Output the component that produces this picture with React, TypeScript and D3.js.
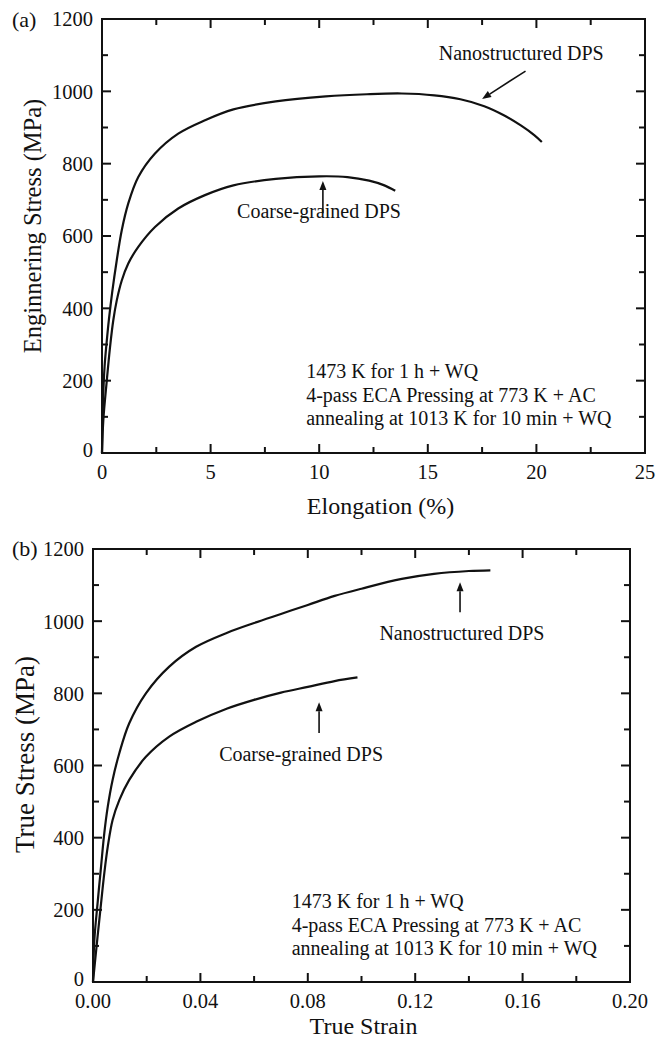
import React from 'react';
import * as d3 from 'd3';

// ---------- data ----------
// (a) engineering curves: elongation (%) vs engineering stress (MPa)
const engNanoStrain = [0, 0.05, 0.12, 0.22, 0.32, 0.47, 0.68, 0.91, 1.21, 1.67, 2.44, 3.51, 4.74, 6.05, 8.0, 10.3, 12.2, 13.8, 15.3, 16.5, 17.6, 18.5, 19.3, 19.9, 20.25];
const engNanoStress = [0, 150, 240, 310, 370, 445, 533, 616, 690, 763, 828, 883, 920, 950, 972, 986, 992, 994, 989, 978, 959, 934, 905, 879, 860];
const engCoarseStrain = [0, 0.06, 0.22, 0.37, 0.52, 0.68, 0.91, 1.21, 1.67, 2.44, 3.51, 4.74, 6.05, 8.0, 10.0, 11.3, 12.3, 13.0, 13.5];
const engCoarseStress = [0, 90, 200, 293, 367, 422, 477, 524, 570, 625, 676, 713, 740, 758, 765, 763, 753, 740, 725];

// (b) true curves: true strain vs true stress (MPa)
const trueNanoStrain = [0, 0.0005, 0.0017, 0.003, 0.0042, 0.0055, 0.0073, 0.0098, 0.0135, 0.0197, 0.0284, 0.0384, 0.05, 0.06, 0.07, 0.08, 0.09, 0.1, 0.115, 0.127, 0.14, 0.148];
const trueNanoStress = [0, 116, 218, 320, 412, 486, 560, 634, 717, 800, 874, 929, 968, 995, 1020, 1045, 1070, 1090, 1117, 1131, 1139, 1141];
const trueCoarseStrain = [0, 0.0017, 0.003, 0.0042, 0.0055, 0.0073, 0.0098, 0.0135, 0.0197, 0.0284, 0.0384, 0.05, 0.06, 0.07, 0.08, 0.09, 0.0985];
const trueCoarseStress = [0, 126, 218, 301, 375, 449, 504, 560, 624, 680, 721, 758, 782, 802, 818, 834, 844];

// ticks
const stressTicks = [0, 200, 400, 600, 800, 1000, 1200];
const stressMinor = [100, 300, 500, 700, 900, 1100];
const engTicks = [0, 5, 10, 15, 20, 25];
const engTickLabels = ['0', '5', '10', '15', '20', '25'];
const engMinor = [2.5, 7.5, 12.5, 17.5, 22.5];
const trueTicks = [0, 0.04, 0.08, 0.12, 0.16, 0.2];
const trueTickLabels = ['0.00', '0.04', '0.08', '0.12', '0.16', '0.20'];
const trueMinor = [0.02, 0.06, 0.1, 0.14, 0.18];

const conditionLines = ['1473 K for 1 h + WQ', '4-pass ECA Pressing at 773 K + AC', 'annealing at 1013 K for 10 min + WQ'];
const seriesNames = ['Nanostructured DPS', 'Coarse-grained DPS'];

const FONT = '"Liberation Serif", "Times New Roman", Times, serif';

type Cfg = {
  letter: string;
  left: number; right: number; top: number; bottom: number;
  xDomain: [number, number];
  xTicks: number[]; xLabels: string[]; xMinor: number[];
  xTitle: string; yTitle: string;
  xTitleDx: number; xTitleBase: number;
  yTitleX: number; yTitleDy: number; yTitleSize: number;
  letterX: number; letterBase: number;
  nano: [number, number][]; coarse: [number, number][];
  nanoLabel: [number, number]; nanoArrow: [number, number, number, number];
  coarseLabel: [number, number]; coarseArrow: [number, number, number, number];
  condX: number; condY: number[];
};

function zip(a: number[], b: number[]): [number, number][] {
  return a.map((v, i) => [v, b[i]]);
}

function Arrow({ x1, y1, x2, y2 }: { x1: number; y1: number; x2: number; y2: number }) {
  const dx = x2 - x1, dy = y2 - y1;
  const L = Math.hypot(dx, dy);
  const ux = dx / L, uy = dy / L;
  const hl = 9, hw = 3.5;
  const bx = x2 - ux * hl, by = y2 - uy * hl;
  const pts = [
    [x2, y2],
    [bx - uy * hw, by + ux * hw],
    [bx + uy * hw, by - ux * hw],
  ].map(p => p.join(',')).join(' ');
  return (
    <g>
      <line x1={x1} y1={y1} x2={bx} y2={by} stroke="#111" strokeWidth={1.6} />
      <polygon points={pts} fill="#111" />
    </g>
  );
}

function Panel({ c }: { c: Cfg }) {
  const x = d3.scaleLinear().domain(c.xDomain).range([c.left, c.right]);
  const y = d3.scaleLinear().domain([0, 1200]).range([c.bottom, c.top]);
  const line = d3.line<[number, number]>().x(d => x(d[0])).y(d => y(d[1])).curve(d3.curveCatmullRom.alpha(0.5));
  const maj = 9, min = 6;
  const tickSize = 20.5;
  return (
    <g fontFamily={FONT} fill="#111">
      {/* frame */}
      <rect x={c.left} y={c.top} width={c.right - c.left} height={c.bottom - c.top} fill="none" stroke="#111" strokeWidth={2} />
      {/* x ticks (bottom & top) */}
      {c.xTicks.map((t, i) => (
        <g key={'xt' + i}>
          <line x1={x(t)} x2={x(t)} y1={c.bottom} y2={c.bottom - maj} stroke="#111" strokeWidth={2} />
          <line x1={x(t)} x2={x(t)} y1={c.top} y2={c.top + maj} stroke="#111" strokeWidth={2} />
          <text x={x(t)} y={c.bottom + 26} textAnchor="middle" fontSize={tickSize}>{c.xLabels[i]}</text>
        </g>
      ))}
      {c.xMinor.map((t, i) => (
        <g key={'xm' + i}>
          <line x1={x(t)} x2={x(t)} y1={c.bottom} y2={c.bottom - min} stroke="#111" strokeWidth={2} />
          <line x1={x(t)} x2={x(t)} y1={c.top} y2={c.top + min} stroke="#111" strokeWidth={2} />
        </g>
      ))}
      {/* y ticks (left & right) */}
      {stressTicks.map((t, i) => (
        <g key={'yt' + i}>
          <line x1={c.left} x2={c.left + maj} y1={y(t)} y2={y(t)} stroke="#111" strokeWidth={2} />
          <line x1={c.right} x2={c.right - maj} y1={y(t)} y2={y(t)} stroke="#111" strokeWidth={2} />
          <text x={c.left - 9} y={y(t)} dy={t === 0 ? '0.2em' : '0.36em'} textAnchor="end" fontSize={tickSize}>{String(t)}</text>
        </g>
      ))}
      {stressMinor.map((t, i) => (
        <g key={'ym' + i}>
          <line x1={c.left} x2={c.left + min} y1={y(t)} y2={y(t)} stroke="#111" strokeWidth={2} />
          <line x1={c.right} x2={c.right - min} y1={y(t)} y2={y(t)} stroke="#111" strokeWidth={2} />
        </g>
      ))}
      {/* titles */}
      <text x={(c.left + c.right) / 2 + c.xTitleDx} y={c.xTitleBase} textAnchor="middle" fontSize={24}>{c.xTitle}</text>
      <text transform={`translate(${c.yTitleX},${(c.top + c.bottom) / 2 + c.yTitleDy}) rotate(-90)`} textAnchor="middle" fontSize={c.yTitleSize}>{c.yTitle}</text>
      <text x={c.letterX} y={c.letterBase} fontSize={22}>{c.letter}</text>
      {/* curves */}
      <path d={line(c.nano) || ''} fill="none" stroke="#111" strokeWidth={2.2} strokeLinejoin="round" />
      <path d={line(c.coarse) || ''} fill="none" stroke="#111" strokeWidth={2.2} strokeLinejoin="round" />
      {/* annotations */}
      <text x={x(c.nanoLabel[0])} y={y(c.nanoLabel[1])} textAnchor="middle" fontSize={20}>{seriesNames[0]}</text>
      <Arrow x1={x(c.nanoArrow[0])} y1={y(c.nanoArrow[1])} x2={x(c.nanoArrow[2])} y2={y(c.nanoArrow[3])} />
      <text x={x(c.coarseLabel[0])} y={y(c.coarseLabel[1])} textAnchor="middle" fontSize={20}>{seriesNames[1]}</text>
      <Arrow x1={x(c.coarseArrow[0])} y1={y(c.coarseArrow[1])} x2={x(c.coarseArrow[2])} y2={y(c.coarseArrow[3])} />
      {conditionLines.map((s, i) => (
        <text key={'c' + i} x={x(c.condX)} y={y(c.condY[i])} fontSize={20}>{s}</text>
      ))}
    </g>
  );
}

const panelA: Cfg = {
  letter: '(a)', left: 102, right: 645, top: 19, bottom: 453,
  xDomain: [0, 25], xTicks: engTicks, xLabels: engTickLabels, xMinor: engMinor,
  xTitle: 'Elongation (%)', yTitle: 'Enginnering Stress (MPa)',
  xTitleDx: 7, xTitleBase: 514, yTitleX: 41, yTitleDy: -10, yTitleSize: 24.5,
  letterX: 12, letterBase: 27,
  nano: zip(engNanoStrain, engNanoStress), coarse: zip(engCoarseStrain, engCoarseStress),
  nanoLabel: [19.3, 1086], nanoArrow: [19.5, 1056, 17.5, 979],
  coarseLabel: [9.99, 650], coarseArrow: [10.17, 663, 10.17, 752],
  condX: 9.4, condY: [207, 141, 77],
};

const panelB: Cfg = {
  letter: '(b)', left: 93, right: 630, top: 549, bottom: 982,
  xDomain: [0, 0.2], xTicks: trueTicks, xLabels: trueTickLabels, xMinor: trueMinor,
  xTitle: 'True Strain', yTitle: 'True Stress (MPa)',
  xTitleDx: 2, xTitleBase: 1034, yTitleX: 34, yTitleDy: -11, yTitleSize: 27,
  letterX: 12, letterBase: 556,
  nano: zip(trueNanoStrain, trueNanoStress), coarse: zip(trueCoarseStrain, trueCoarseStress),
  nanoLabel: [0.1374, 948], nanoArrow: [0.1367, 1025, 0.1367, 1108],
  coarseLabel: [0.0775, 612], coarseArrow: [0.0842, 690, 0.0842, 775],
  condX: 0.074, condY: [205, 139, 75],
};

export default function App() {
  return (
    <svg width={668} height={1040} viewBox="0 0 668 1040"
      style={{ position: 'absolute', left: 0, top: 0, background: '#fff' }}>
      <rect x={0} y={0} width={668} height={1040} fill="#fff" />
      <Panel c={panelA} />
      <Panel c={panelB} />
    </svg>
  );
}
